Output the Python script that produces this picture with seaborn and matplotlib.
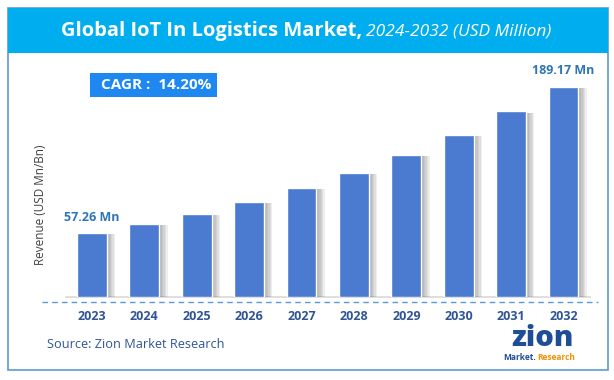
import matplotlib
matplotlib.use("Agg")
import matplotlib.pyplot as plt
import matplotlib.patheffects as pe
from matplotlib.patches import Rectangle
from matplotlib.lines import Line2D
import pandas as pd
import seaborn as sns

# chart data
years = ["2023", "2024", "2025", "2026", "2027", "2028", "2029", "2030", "2031", "2032"]
revenue = [57.26, 65.4, 74.6, 85.3, 98.0, 111.9, 128.0, 146.0, 167.0, 189.17]
first_label = "57.26 Mn"
last_label = "189.17 Mn"
cagr_text = "CAGR :  14.20%"

df = pd.DataFrame({"year": years, "revenue": revenue})

sns.set_style("white")
plt.rcParams["font.family"] = ["Open Sans", "DejaVu Sans"]

W, H = 614, 380
fig = plt.figure(figsize=(W / 100, H / 100), dpi=100)
fig.patch.set_facecolor("white")


def fx(px):
    return px / W


def fy(py):
    return 1 - py / H


# outer frame and title band
fig.patches.append(Rectangle((fx(7.5), fy(370)), fx(600), 362 / H, transform=fig.transFigure,
                             facecolor="none", edgecolor="#5B9BD5", linewidth=1.2, zorder=-1))
fig.patches.append(Rectangle((fx(7.5), fy(53)), fx(600), 45 / H, transform=fig.transFigure,
                             facecolor="#00AEEF", edgecolor="#00AEEF", linewidth=0, zorder=1))

fig.text(fx(362), fy(31), "Global IoT In Logistics Market,", color="white",
         fontsize=14.5, fontweight="bold", ha="right", va="center")
fig.text(fx(366), fy(31), "2024-2032 (USD Million)", color="white",
         fontsize=12.5, fontstyle="italic", ha="left", va="center")

ax = fig.add_axes([fx(65.8), fy(297), fx(523.9), 237 / H])
sns.barplot(data=df, x="year", y="revenue", color="#4A7BD0", saturation=1,
            width=0.57, ax=ax, zorder=3)
# soft shadow on the right side of each bar
shadow = [pe.SimplePatchShadow(offset=(k, -0.8), shadow_rgbFace="#606060", alpha=0.1)
          for k in (6, 5, 4, 3, 2, 1)]
for bar in ax.patches:
    bar.set_path_effects(shadow + [pe.Normal()])

ax.set_ylim(0, 213.3)
ax.set_xlim(-0.5, 9.5)
ax.set_yticks([])
ax.set_xlabel("")
ax.set_ylabel("")
for s in ["top", "right", "left"]:
    ax.spines[s].set_visible(False)
ax.spines["bottom"].set_color("#d9d9d9")
ax.spines["bottom"].set_linewidth(1.2)
ax.tick_params(axis="x", length=0, pad=9, labelsize=9, labelcolor="#2F5597")
for lab in ax.get_xticklabels():
    lab.set_fontweight("bold")
ax.patch.set_alpha(0)

ax.annotate(first_label, (0, revenue[0]), xytext=(0, 7), textcoords="offset points",
            ha="center", va="bottom", fontsize=9, fontweight="bold", color="#2E75B6")
ax.annotate(last_label, (9, revenue[-1]), xytext=(0, 7), textcoords="offset points",
            ha="center", va="bottom", fontsize=9, fontweight="bold", color="#2E75B6")

# dashed line under the axis
fig.lines.append(Line2D([fx(42), fx(598)], [fy(302), fy(302)], transform=fig.transFigure,
                        color="#5B9BD5", linewidth=1, linestyle=(0, (4, 3))))

fig.text(fx(40), fy(205), "Revenue (USD Mn/Bn)", rotation=90, fontsize=8.5,
         color="#404040", ha="center", va="center")

# CAGR box
fig.patches.append(Rectangle((fx(90), fy(97)), fx(127), 24 / H, transform=fig.transFigure,
                             facecolor="#1E88F0", edgecolor="none", zorder=2))
fig.text(fx(156), fy(85), cagr_text, fontsize=11, fontweight="bold", color="white",
         ha="center", va="center", zorder=3)

fig.text(fx(47), fy(344), "Source: Zion Market Research", fontsize=9.2, color="#2F5597",
         ha="left", va="center")

# logo approximation
fig.text(fx(542), fy(338), "zion", fontsize=21, fontweight="heavy", color="#1F4E99",
         ha="center", va="center")
fig.text(fx(536), fy(358), "Market.", fontsize=6, fontweight="bold", color="#1F4E99",
         ha="right", va="center")
fig.text(fx(537), fy(358), "Research", fontsize=6, fontweight="bold", color="#F39200",
         ha="left", va="center")

fig.savefig("out.png", dpi=100)
